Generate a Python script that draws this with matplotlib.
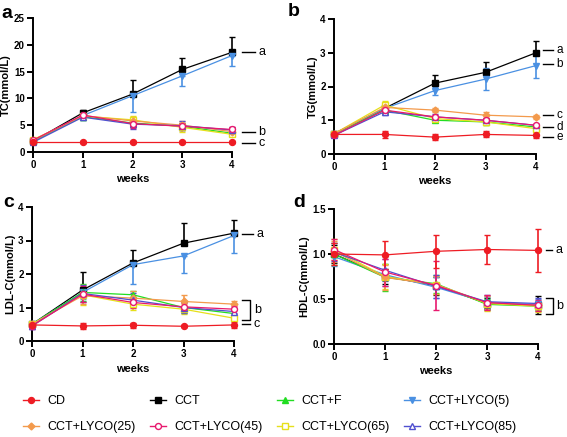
import matplotlib; matplotlib.use("Agg")
import matplotlib.pyplot as plt
import matplotlib.ticker as mticker
from matplotlib.lines import Line2D

plt.rcParams["font.family"] = ["Liberation Sans", "DejaVu Sans"]

weeks = [0, 1, 2, 3, 4]
groups = ["CD", "CCT", "CCT+F", "CCT+LYCO(5)", "CCT+LYCO(25)", "CCT+LYCO(45)", "CCT+LYCO(65)", "CCT+LYCO(85)"]

# TC (mmol/L)
tc_mean = {"CD": [1.9, 1.9, 1.9, 1.9, 1.9], "CCT": [2.0, 7.3, 10.8, 15.4, 18.6],
           "CCT+F": [2.0, 6.6, 5.4, 4.8, 3.5], "CCT+LYCO(5)": [2.0, 6.8, 10.5, 14.2, 18.0],
           "CCT+LYCO(25)": [2.1, 6.8, 5.8, 5.0, 3.8], "CCT+LYCO(45)": [2.2, 6.9, 5.3, 4.8, 4.2],
           "CCT+LYCO(65)": [2.3, 6.7, 6.0, 4.6, 3.3], "CCT+LYCO(85)": [1.8, 6.5, 5.2, 4.9, 4.1]}
tc_sd = {"CD": [0.2, 0.15, 0.15, 0.15, 0.15], "CCT": [0.3, 0.5, 2.7, 2.1, 2.8],
         "CCT+F": [0.4, 0.6, 0.8, 0.7, 0.4], "CCT+LYCO(5)": [0.3, 0.5, 3.0, 1.8, 2.0],
         "CCT+LYCO(25)": [0.4, 0.6, 0.7, 0.8, 0.4], "CCT+LYCO(45)": [0.4, 0.7, 0.8, 0.7, 0.5],
         "CCT+LYCO(65)": [0.4, 0.6, 0.8, 0.9, 0.4], "CCT+LYCO(85)": [0.4, 0.6, 0.9, 0.8, 0.5]}

# TG (mmol/L)
tg_mean = {"CD": [0.58, 0.58, 0.5, 0.58, 0.55], "CCT": [0.6, 1.35, 2.1, 2.42, 3.0],
           "CCT+F": [0.6, 1.3, 1.0, 0.95, 0.8], "CCT+LYCO(5)": [0.6, 1.35, 1.88, 2.22, 2.62],
           "CCT+LYCO(25)": [0.6, 1.38, 1.3, 1.15, 1.1], "CCT+LYCO(45)": [0.55, 1.3, 1.1, 1.0, 0.85],
           "CCT+LYCO(65)": [0.6, 1.45, 1.05, 0.95, 0.75], "CCT+LYCO(85)": [0.55, 1.25, 1.1, 1.0, 0.85]}
tg_sd = {"CD": [0.05, 0.1, 0.09, 0.09, 0.09], "CCT": [0.05, 0.1, 0.23, 0.3, 0.35],
         "CCT+F": [0.05, 0.1, 0.06, 0.06, 0.05], "CCT+LYCO(5)": [0.05, 0.1, 0.12, 0.32, 0.38],
         "CCT+LYCO(25)": [0.05, 0.1, 0.06, 0.08, 0.05], "CCT+LYCO(45)": [0.05, 0.1, 0.07, 0.06, 0.05],
         "CCT+LYCO(65)": [0.05, 0.12, 0.06, 0.08, 0.06], "CCT+LYCO(85)": [0.05, 0.1, 0.08, 0.06, 0.05]}

# LDL-C (mmol/L)
ldl_mean = {"CD": [0.48, 0.45, 0.47, 0.44, 0.48], "CCT": [0.5, 1.52, 2.33, 2.92, 3.22],
            "CCT+F": [0.5, 1.45, 1.38, 1.0, 0.82], "CCT+LYCO(5)": [0.5, 1.45, 2.28, 2.54, 3.15],
            "CCT+LYCO(25)": [0.5, 1.35, 1.28, 1.18, 1.1], "CCT+LYCO(45)": [0.45, 1.4, 1.15, 1.02, 0.95],
            "CCT+LYCO(65)": [0.5, 1.38, 1.1, 0.95, 0.68], "CCT+LYCO(85)": [0.45, 1.42, 1.22, 1.0, 0.88]}
ldl_sd = {"CD": [0.05, 0.1, 0.08, 0.03, 0.08], "CCT": [0.05, 0.55, 0.4, 0.6, 0.4],
          "CCT+F": [0.08, 0.25, 0.12, 0.15, 0.1], "CCT+LYCO(5)": [0.05, 0.2, 0.58, 0.52, 0.52],
          "CCT+LYCO(25)": [0.08, 0.25, 0.2, 0.2, 0.1], "CCT+LYCO(45)": [0.08, 0.25, 0.15, 0.12, 0.1],
          "CCT+LYCO(65)": [0.08, 0.3, 0.18, 0.15, 0.08], "CCT+LYCO(85)": [0.08, 0.25, 0.2, 0.15, 0.1]}

# HDL-C (mmol/L)
hdl_mean = {"CD": [1.0, 0.99, 1.03, 1.05, 1.04], "CCT": [1.0, 0.75, 0.65, 0.45, 0.43],
            "CCT+F": [1.0, 0.74, 0.67, 0.44, 0.42], "CCT+LYCO(5)": [0.97, 0.77, 0.63, 0.46, 0.44],
            "CCT+LYCO(25)": [1.03, 0.74, 0.66, 0.46, 0.43], "CCT+LYCO(45)": [1.05, 0.8, 0.65, 0.46, 0.43],
            "CCT+LYCO(65)": [1.05, 0.75, 0.66, 0.45, 0.42], "CCT+LYCO(85)": [1.02, 0.82, 0.64, 0.47, 0.45]}
hdl_sd = {"CD": [0.12, 0.16, 0.18, 0.16, 0.24], "CCT": [0.1, 0.08, 0.1, 0.06, 0.1],
          "CCT+F": [0.12, 0.15, 0.1, 0.06, 0.05], "CCT+LYCO(5)": [0.1, 0.12, 0.12, 0.06, 0.06],
          "CCT+LYCO(25)": [0.12, 0.14, 0.1, 0.07, 0.05], "CCT+LYCO(45)": [0.12, 0.15, 0.27, 0.08, 0.06],
          "CCT+LYCO(65)": [0.12, 0.14, 0.1, 0.08, 0.06], "CCT+LYCO(85)": [0.1, 0.12, 0.13, 0.07, 0.06]}

sty = {"CD": ("#ee1c24", "o", True), "CCT": ("black", "s", True), "CCT+F": ("#22dd22", "^", True),
       "CCT+LYCO(5)": ("#4a90e2", "v", True), "CCT+LYCO(25)": ("#f39a4c", "D", True),
       "CCT+LYCO(45)": ("#e8196e", "o", False), "CCT+LYCO(65)": ("#e6e01a", "s", False),
       "CCT+LYCO(85)": ("#5050d0", "^", False)}
order = ["CCT", "CCT+LYCO(5)", "CCT+F", "CCT+LYCO(65)", "CCT+LYCO(25)", "CCT+LYCO(85)", "CCT+LYCO(45)", "CD"]

fig = plt.figure(figsize=(5.67, 4.37), dpi=100)
W, H = 567, 437


def mkax(l, r, t, b):
    return fig.add_axes([l / W, 1 - b / H, (r - l) / W, (b - t) / H])


def draw(ax, mean, sd, sides, ylim, yticks, ylabel, letter, lx, ly):
    for g in order:
        c, m, filled = sty[g]
        s = sides.get(g, "both")
        lo = [0] * 5 if s == "up" else sd[g]
        hi = [0] * 5 if s == "down" else sd[g]
        ms = 3.5 if m == "D" else 4.3
        ax.errorbar(weeks, mean[g], yerr=[lo, hi], color=c, marker=m, ms=ms, lw=0.9, capsize=2.5,
                    elinewidth=1.2, capthick=1.2, mfc=c if filled else "white", mec=c, mew=1,
                    clip_on=False, zorder=3)
    ax.set_xlim(0, 4); ax.set_ylim(*ylim)
    ax.set_xticks(weeks); ax.set_yticks(yticks)
    for sp in ["top", "right"]: ax.spines[sp].set_visible(False)
    for sp in ["left", "bottom"]: ax.spines[sp].set_linewidth(1.4)
    ax.tick_params(width=1.4, length=4, labelsize=7, pad=2)
    ax.set_xlabel("weeks", fontsize=8, fontweight="bold", labelpad=3)
    ax.set_ylabel(ylabel, fontsize=8, fontweight="bold", labelpad=2)
    fig.text(lx / W, 1 - ly / H, letter, fontsize=14, fontweight="bold", ha="left", va="center")


def bold_ticks(ax):
    for t in ax.get_xticklabels() + ax.get_yticklabels(): t.set_fontweight("bold")


def mark(ax, y, s, x0, x1, fs=9):
    ax.plot([x0, x1], [y, y], color="black", lw=1, clip_on=False)
    ax.text(x1 + 0.07, y, s, fontsize=fs, ha="left", va="center")


def bracket(ax, y1, y2, s, x0, x1):
    ax.plot([x0, x1, x1, x0], [y1, y1, y2, y2], color="black", lw=1, clip_on=False)
    ax.text(x1 + 0.07, (y1 + y2) / 2, s, fontsize=9, ha="left", va="center")


axa = mkax(33, 232, 18, 152)
draw(axa, tc_mean, tc_sd, {"CCT": "up", "CCT+LYCO(5)": "down"}, (0, 25), [0, 5, 10, 15, 20, 25],
     "TC(mmol/L)", "a", 1, 13)
bold_ticks(axa)
mark(axa, 18.6, "a", 4.2, 4.46); mark(axa, 3.7, "b", 4.2, 4.46); mark(axa, 1.6, "c", 4.2, 4.46)

axb = mkax(334, 536, 19, 154)
draw(axb, tg_mean, tg_sd, {"CCT": "up"}, (0, 4), [0, 1, 2, 3, 4], "TG(mmol/L)", "b", 288, 11)
bold_ticks(axb)
for y, s in zip([3.07, 2.67, 1.15, 0.8, 0.49], "abcde"):
    mark(axb, y, s, 4.14, 4.34, fs=8.5)

axc = mkax(32, 234, 207, 341)
draw(axc, ldl_mean, ldl_sd, {"CCT": "up", "CCT+LYCO(5)": "down"}, (0, 4), [0, 1, 2, 3, 4],
     "LDL-C(mmol/L)", "c", 3, 203)
bold_ticks(axc)
mark(axc, 3.19, "a", 4.16, 4.38)
bracket(axc, 1.22, 0.63, "b", 4.16, 4.32)
mark(axc, 0.51, "c", 4.16, 4.32)

axd = mkax(334, 538, 209, 344)
draw(axd, hdl_mean, hdl_sd, {}, (0, 1.5), [0.0, 0.5, 1.0, 1.5], "HDL-C(mmol/L)", "d", 293, 203)
axd.yaxis.set_major_formatter(mticker.FormatStrFormatter("%.1f"))
bold_ticks(axd)
mark(axd, 1.04, "a", 4.16, 4.27)
bracket(axd, 0.51, 0.33, "b", 4.16, 4.29)

# legend: row-wise order, matplotlib fills columns first
leg_order = ["CD", "CCT+LYCO(25)", "CCT", "CCT+LYCO(45)", "CCT+F", "CCT+LYCO(65)", "CCT+LYCO(5)", "CCT+LYCO(85)"]
handles = []
for g in leg_order:
    c, m, filled = sty[g]
    handles.append(Line2D([], [], color=c, marker=m, ms=3.5 if m == "D" else 4.3, lw=1,
                          mfc=c if filled else "white", mec=c, mew=1))
fig.legend(handles, leg_order, ncol=4, loc="center", bbox_to_anchor=(0.476, 0.052), frameon=False,
           fontsize=9, handlelength=1.3, handletextpad=0.7, columnspacing=1.1, labelspacing=1.1)

fig.savefig("out.png", dpi=100)
